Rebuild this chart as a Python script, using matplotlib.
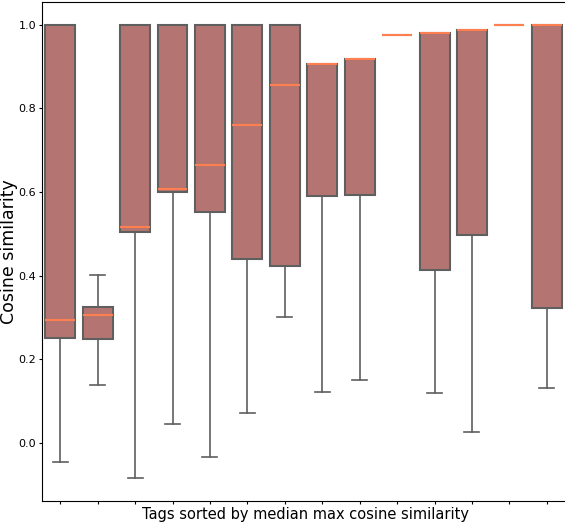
from matplotlib import pyplot as plt
import numpy as np

# box statistics per tag
whislo = [-0.046, 0.138, -0.083, 0.045, -0.033, 0.071, 0.300, 0.121, 0.150, 0.975, 0.120, 0.026, 0.998, 0.132]
q1 = [0.250, 0.248, 0.505, 0.600, 0.552, 0.440, 0.424, 0.590, 0.593, 0.975, 0.414, 0.498, 0.998, 0.322]
med = [0.293, 0.306, 0.517, 0.607, 0.664, 0.760, 0.856, 0.906, 0.917, 0.975, 0.981, 0.987, 0.998, 0.999]
q3 = [1.000, 0.325, 1.000, 1.000, 1.000, 1.000, 1.000, 0.906, 0.917, 0.975, 0.981, 0.987, 0.998, 1.000]
whishi = [1.000, 0.402, 1.000, 1.000, 1.000, 1.000, 1.000, 0.906, 0.917, 0.975, 0.981, 0.987, 0.998, 1.000]

stats = [dict(whislo=a, q1=b, med=c, q3=d, whishi=e, fliers=[])
         for a, b, c, d, e in zip(whislo, q1, med, q3, whishi)]

fig = plt.figure(figsize=(5.65, 5.28), dpi=100)
ax = fig.add_axes([41.5 / 565, 1 - 501 / 528, 1 - 41.5 / 565 + 0.001, (501 - 2) / 528])

edge = '#5f5f5f'
ax.bxp(stats, positions=np.arange(len(stats)), widths=0.8, patch_artist=True,
       showfliers=False,
       boxprops=dict(facecolor='#b47572', edgecolor=edge, linewidth=1.5),
       whiskerprops=dict(color=edge, linewidth=1.2),
       capprops=dict(color=edge, linewidth=1.2),
       medianprops=dict(color='coral', linewidth=1.5))

ax.set_xlim(-0.5, len(stats) - 0.5)
ax.set_ylim(-0.139, 1.054)
ax.set_xticks(np.arange(len(stats)))
ax.set_xticklabels([])
ax.set_yticks([0.0, 0.2, 0.4, 0.6, 0.8, 1.0])
ax.tick_params(length=2.5, pad=1.2)
ax.tick_params(axis='y', labelsize=8)
ax.set_xlabel('Tags sorted by median max cosine similarity', fontsize=10.5)
ax.set_ylabel('Cosine similarity', fontsize=12.5)
ax.xaxis.set_label_coords(0.503, -0.013)
ax.yaxis.set_label_coords(-0.045, 0.5)

plt.savefig('out.png', dpi=100)
